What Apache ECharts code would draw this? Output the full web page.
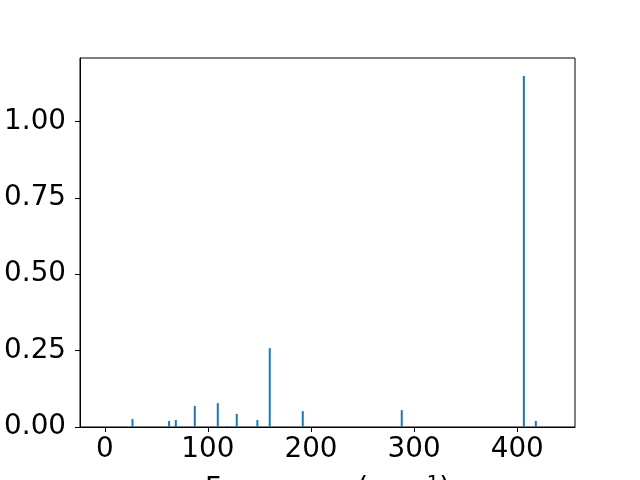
<!DOCTYPE html>
<html><head><meta charset="utf-8">
<script src="https://cdn.jsdelivr.net/npm/echarts@6/dist/echarts.min.js"></script>
<style>html,body{margin:0;padding:0;background:#fff}#c{width:640px;height:480px}</style>
</head><body><div id="c"></div>
<script>
var freqs = [26.9, 62.4, 68.9, 87.3, 109.6, 118.3, 128, 148, 160, 192, 288, 406.4, 418];
var intensities = [0.026, 0.020, 0.023, 0.069, 0.078, 0.003, 0.043, 0.023, 0.258, 0.052, 0.055, 1.149, 0.020];
var xTicks = [0, 100, 200, 300, 400];
var yTicks = [0, 0.25, 0.5, 0.75, 1.0];

var data = freqs.map(function(f, i){ return [f, intensities[i]]; });
var font = 'DejaVu Sans';
var chart = echarts.init(document.getElementById('c'), null, {renderer:'canvas'});
chart.setOption({
  animation: false,
  grid: {left: 80, right: 65, top: 58, bottom: 53, containLabel: false, outerBoundsMode: 'none',
    show: true, borderColor: '#000', borderWidth: 1, backgroundColor: 'transparent'},
  xAxis: {
    type: 'value', min: -24, max: 456,
    name: '{a|Frequency (cm}{b|−1}{a|)}',
    nameLocation: 'middle', nameGap: 47,
    nameTextStyle: {rich: {
      a: {fontFamily: font, fontSize: 27.8, color: '#000'},
      b: {fontFamily: font, fontSize: 19.5, color: '#000', verticalAlign: 'top', padding:[0,0,12,0]}
    }},
    axisLine: {show: true, onZero: false, lineStyle: {color: '#000', width: 1}},
    axisTick: {show: true, customValues: xTicks, length: 5, lineStyle: {color: '#000'}},
    axisLabel: {customValues: xTicks, fontFamily: font, fontSize: 27.8, color: '#000', margin: 9},
    splitLine: {show: false}
  },
  yAxis: {
    type: 'value', min: 0, max: 1.2075,
    axisLine: {show: true, onZero: false, lineStyle: {color: '#000', width: 1}},
    axisTick: {show: true, customValues: yTicks, length: 5, lineStyle: {color: '#000'}},
    axisLabel: {customValues: yTicks, fontFamily: font, fontSize: 27.8, color: '#000', margin: 14,
      formatter: function(v){ return v.toFixed(2); }},
    splitLine: {show: false}
  },
  series: [{
    type: 'bar', data: data, barWidth: 2,
    itemStyle: {color: '#1f77b4'}
  }]
});
</script></body></html>
